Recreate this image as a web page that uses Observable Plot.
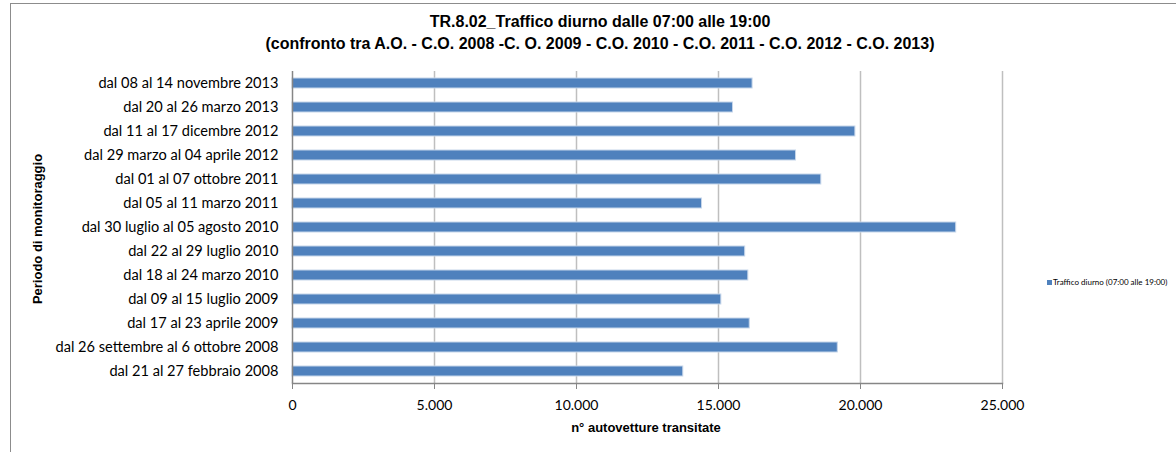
<!DOCTYPE html>
<html>
<head>
<meta charset="utf-8">
<script src="https://cdn.jsdelivr.net/npm/d3@7"></script>
<script src="https://cdn.jsdelivr.net/npm/@observablehq/plot@0.6"></script>
<style>
  html, body { margin: 0; padding: 0; background: #fff; }
  #wrap { position: relative; width: 1176px; height: 452px; overflow: hidden; font-family: "Liberation Sans", Arial, sans-serif; }
  #frame { position: absolute; left: 10px; top: 3px; width: 1200px; height: 500px; border: 1px solid #8c8c8c; box-sizing: border-box; }
  .title { position: absolute; left: 0; width: 1200px; text-align: center; font-weight: bold; font-size: 16px; color: #000; }
  #legend { position: absolute; left: 1047px; top: 277px; font-family: Lato, sans-serif; font-size: 8px; color: #000; white-space: nowrap; }
  #legend span.sw { display: inline-block; width: 5px; height: 5px; background: #4F81BD; margin-right: 1px; vertical-align: 0px; }
  #chart { position: absolute; left: 0; top: 0; }
</style>
</head>
<body>
<div id="wrap">
  <div id="frame"></div>
  <div class="title" style="top:13px">TR.8.02_Traffico diurno dalle 07:00 alle 19:00</div>
  <div class="title" style="top:35px">(confronto tra A.O. - C.O. 2008 -C. O. 2009 - C.O. 2010 - C.O. 2011 - C.O. 2012 - C.O. 2013)</div>
  <div id="chart"></div>
  <div id="legend"><span class="sw"></span>Traffico diurno (07:00 alle 19:00)</div>
</div>
<script>
const periods = [
  "dal 21 al 27 febbraio 2008",
  "dal 26 settembre al 6 ottobre 2008",
  "dal 17 al 23 aprile 2009",
  "dal 09 al 15 luglio 2009",
  "dal 18 al 24 marzo 2010",
  "dal 22 al 29 luglio 2010",
  "dal 30 luglio al 05 agosto 2010",
  "dal 05 al 11 marzo 2011",
  "dal 01 al 07 ottobre 2011",
  "dal 29 marzo al 04 aprile 2012",
  "dal 11 al 17 dicembre 2012",
  "dal 20 al 26 marzo 2013",
  "dal 08 al 14 novembre 2013"
];
const traffic = [13760, 19200, 16100, 15100, 16050, 15940, 23370, 14420, 18620, 17730, 19820, 15510, 16200];
const xTicks = [0, 5000, 10000, 15000, 20000, 25000];
const seriesName = "Traffico diurno (07:00 alle 19:00)";

const data = periods.map((p, i) => ({period: p, value: traffic[i]}));
const itFmt = d3.formatLocale({decimal: ",", thousands: ".", grouping: [3], currency: ["€", ""]}).format(",d");

const chart = Plot.plot({
  width: 1176,
  height: 452,
  marginTop: 71,
  marginBottom: 69,
  marginLeft: 292,
  marginRight: 174,
  style: {fontFamily: "Lato, sans-serif", fontSize: "14px", color: "#000", background: "transparent"},
  x: {domain: [0, 25000], ticks: xTicks, tickFormat: itFmt, label: null},
  y: {domain: periods.slice().reverse(), paddingInner: 0.58, paddingOuter: 0.29, label: null},
  marks: [
    Plot.gridX(xTicks.filter(d => d > 0), {stroke: "#bfbfbf", strokeOpacity: 1, strokeWidth: 1.5}),
    Plot.barX(data, {x: "value", y: "period", fill: "#4F81BD", stroke: "#c6d6ea", strokeWidth: 1}),
    Plot.ruleX([0], {stroke: "#868686", strokeWidth: 1.5}),
    Plot.axisY({tickSize: 0, tickPadding: 14, fontSize: 14.6, label: null}),
    Plot.axisX(xTicks, {tickSize: 6, tickPadding: 11, fontSize: 14, stroke: "#868686", tickFormat: itFmt, label: null}),
    Plot.frame({anchor: "bottom", stroke: "#868686", strokeWidth: 1.5})
  ]
});
document.getElementById("chart").appendChild(chart);

const svg = d3.select(chart);
svg.append("text")
  .attr("x", 646).attr("y", 432)
  .attr("text-anchor", "middle")
  .style("font-family", "'Liberation Sans', Arial, sans-serif")
  .style("font-weight", "bold").style("font-size", "13px")
  .text("n° autovetture transitate");
svg.append("text")
  .attr("transform", "translate(42,229) rotate(-90)")
  .attr("text-anchor", "middle")
  .style("font-family", "'Liberation Sans', Arial, sans-serif")
  .style("font-weight", "bold").style("font-size", "13px")
  .text("Periodo di monitoraggio");
</script>
</body>
</html>
